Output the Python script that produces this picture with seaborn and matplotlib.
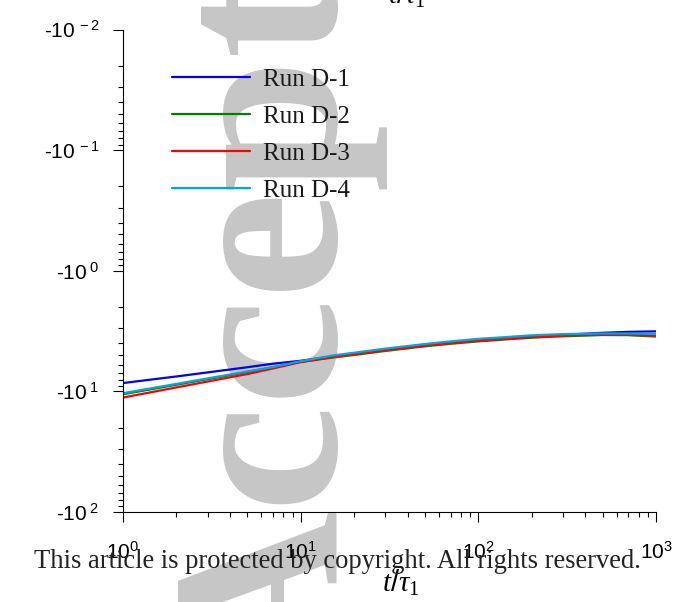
import numpy as np
import pandas as pd
import matplotlib
matplotlib.use("Agg")
import matplotlib.pyplot as plt
import seaborn as sns
from matplotlib.ticker import FixedLocator, NullFormatter

# ---------------- data ----------------
t = [1, 2, 3, 5, 7, 10, 15, 20, 30, 50, 70, 100, 150, 200, 300, 500, 700, 1000]
run_d1 = [-8.53, -7.52, -6.96, -6.31, -5.89, -5.58, -5.14, -4.88, -4.52, -4.14,
          -3.94, -3.76, -3.61, -3.51, -3.40, -3.27, -3.21, -3.18]
run_d2 = [-10.57, -8.81, -7.91, -6.92, -6.31, -5.70, -5.25, -4.99, -4.62, -4.23,
          -4.03, -3.85, -3.69, -3.59, -3.49, -3.41, -3.42, -3.51]
run_d3 = [-11.25, -9.27, -8.28, -7.19, -6.45, -5.72, -5.20, -4.93, -4.57, -4.18,
          -3.98, -3.80, -3.65, -3.55, -3.45, -3.39, -3.40, -3.45]
run_d4 = [-10.35, -8.67, -7.80, -6.84, -6.28, -5.62, -5.05, -4.78, -4.42, -4.05,
          -3.85, -3.67, -3.53, -3.43, -3.35, -3.31, -3.31, -3.33]
run_names = ["Run D-1", "Run D-2", "Run D-3", "Run D-4"]
run_colors = ["#0000ff", "#008000", "#ff0000", "#00a8de"]
y_major = [-100, -10, -1, -0.1, -0.01]
y_major_exp = ["2", "1", "0", "-1", "-2"]
x_major = [1, 10, 100, 1000]
x_major_exp = ["0", "1", "2", "3"]

# ---------------- style ----------------
sns.set_theme(style="ticks")
plt.rcParams["font.family"] = ["Liberation Sans", "DejaVu Sans"]
plt.rcParams["mathtext.fontset"] = "custom"
plt.rcParams["mathtext.rm"] = "Liberation Sans"
plt.rcParams["mathtext.it"] = "Liberation Serif:italic"
plt.rcParams["mathtext.sf"] = "Liberation Serif"

rows = []
for name, vals in zip(run_names, [run_d1, run_d2, run_d3, run_d4]):
    for tt, v in zip(t, vals):
        rows.append({"t": tt, "value": v, "run": name})
df = pd.DataFrame(rows)

fig = plt.figure(figsize=(6.75, 6.02), dpi=100)
ax = fig.add_axes([123 / 675, 1 - 512 / 602, 533 / 675, 482.5 / 602])
ax.patch.set_visible(False)

# negative-log y scale: -10^-2 at top, -10^2 at bottom
def fwd(y):
    y = np.asarray(y, dtype=float)
    with np.errstate(all="ignore"):
        return -np.log10(-y)

def inv(z):
    z = np.asarray(z, dtype=float)
    return -np.power(10.0, -z)

ax.set_xscale("log")
ax.set_yscale("function", functions=(fwd, inv))

sns.lineplot(data=df, x="t", y="value", hue="run", hue_order=run_names,
             palette=dict(zip(run_names, run_colors)), linewidth=1.6,
             ax=ax, sort=False, estimator=None)

ax.set_xlim(1, 1000)
ax.set_ylim(-100, -0.01)

# ticks
ax.yaxis.set_major_locator(FixedLocator(y_major))
ax.set_yticklabels([f"-10$^{{\\;{e}}}$" for e in y_major_exp])
minor_y = [-k * 10.0 ** n for n in range(-2, 2) for k in range(2, 10)]
ax.yaxis.set_minor_locator(FixedLocator(minor_y))
ax.yaxis.set_minor_formatter(NullFormatter())

ax.xaxis.set_major_locator(FixedLocator(x_major))
ax.set_xticklabels([f"10$^{{{e}}}$" for e in x_major_exp])
minor_x = [k * 10.0 ** n for n in range(0, 3) for k in range(2, 10)]
ax.xaxis.set_minor_locator(FixedLocator(minor_x))
ax.xaxis.set_minor_formatter(NullFormatter())

ax.tick_params(axis="both", which="major", direction="out", length=7.2,
               width=0.8, color="black", labelsize=15, labelcolor="black")
ax.tick_params(axis="both", which="minor", direction="out", length=3.6,
               width=0.8, color="black")
ax.tick_params(axis="y", which="major", pad=10)
ax.tick_params(axis="x", which="major", pad=14)

sns.despine(ax=ax)
for s in ["left", "bottom"]:
    ax.spines[s].set_linewidth(0.8)
    ax.spines[s].set_color("black")

ax.set_ylabel("")
ax.set_xlabel(r"$t/\tau_{\mathsf{1}}$", fontsize=21, color="black", va="baseline")
ax.xaxis.set_label_coords(0.522, -0.166)

leg = ax.legend(loc="upper left", bbox_to_anchor=(0.092, 0.919), frameon=False,
                prop={"family": "Liberation Serif", "size": 18},
                handlelength=3.1, handletextpad=0.52, labelspacing=0.58,
                borderpad=0, borderaxespad=0)
for line in leg.get_lines():
    line.set_linewidth(1.6)
for txt in leg.get_texts():
    txt.set_color("#1a1a1a")

# watermark & footer
fig.text(335 / 675, 1 - 682 / 602, "Accepted", rotation=90, rotation_mode="anchor",
         ha="left", va="baseline", fontsize=173, family="Liberation Serif",
         fontweight="bold", color="#c6c6c6", zorder=-1)
fig.text(426 / 675, 1 - 4 / 602, r"$t/\tau_{\mathsf{1}}$", ha="right", va="baseline",
         fontsize=21, color="black", zorder=5)
fig.text(0.5, 1 - 568 / 602, "This article is protected by copyright. All rights reserved.",
         ha="center", va="baseline", fontsize=19.1, family="Liberation Serif",
         color="#222222", zorder=5)

fig.savefig("out.png", dpi=100)
